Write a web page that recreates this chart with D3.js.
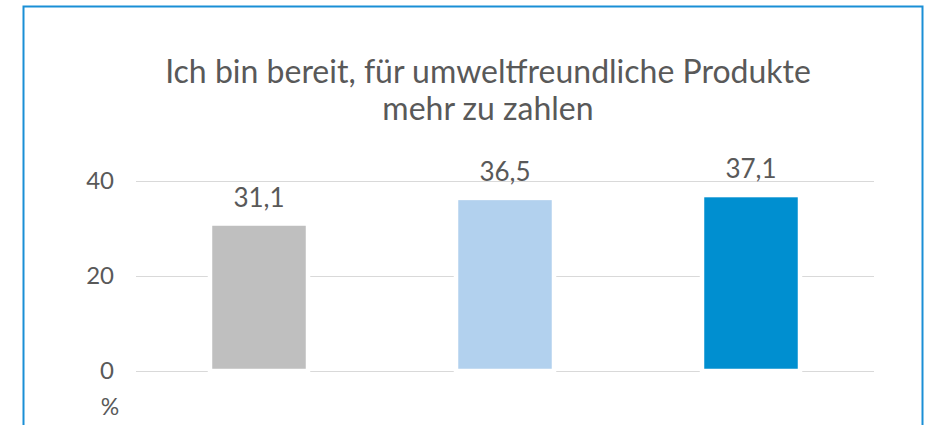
<!DOCTYPE html>
<html>
<head>
<meta charset="utf-8">
<script src="https://cdn.jsdelivr.net/npm/d3@7"></script>
<style>
  body { margin: 0; background: #fff; }
  text { font-family: Lato, "Open Sans", sans-serif; fill: #595959; }
</style>
</head>
<body>
<div id="chart"></div>
<script>
var categories = ['A', 'B', 'C'];
var values = [31.1, 36.5, 37.1];
var barColors = ['#bfbfbf', '#b2d1ee', '#008fd0'];
var yTicks = [0, 20, 40];
var titleLines = ['Ich bin bereit, für umweltfreundliche Produkte', 'mehr zu zahlen'];

var width = 932;
var height = 425;

var svg = d3.select('#chart')
    .append('svg')
        .attr('width', width)
        .attr('height', height);

// blue frame, bottom edge runs off the picture
svg.append('rect')
    .attr('x', 23.5)
    .attr('y', 6.5)
    .attr('width', 899)
    .attr('height', 440)
    .style('fill', 'none')
    .style('stroke', '#1a8fd6')
    .style('stroke-width', 2);

var x = d3.scaleBand()
    .domain(categories)
    .range([136, 874])
    .paddingInner(0.6016)
    .paddingOuter(0.3008);

var y = d3.scaleLinear()
    .domain([0, 40])
    .range([371, 181.3]);

svg.selectAll('.title')
    .data(titleLines)
    .enter()
        .append('text')
        .attr('class', 'title')
        .attr('x', 488)
        .attr('y', function(d, i) { return 83 + i * 37; })
        .attr('text-anchor', 'middle')
        .style('font-size', '32px')
        .text(function(d) { return d; });

// gridlines
svg.selectAll('.grid')
    .data(yTicks)
    .enter()
        .append('line')
        .attr('class', 'grid')
        .attr('x1', 136)
        .attr('x2', 874)
        .attr('y1', function(d) { return Math.round(y(d)) + 0.5; })
        .attr('y2', function(d) { return Math.round(y(d)) + 0.5; })
        .style('stroke', '#d9d9d9')
        .style('stroke-width', 1);

var yAxis = svg.append('g')
    .attr('transform', 'translate(114,0)')
    .call(d3.axisLeft(y).tickValues(yTicks).tickSize(0).tickPadding(0));
yAxis.select('.domain').remove();
yAxis.selectAll('text')
    .style('font-size', '24px')
    .style('font-family', 'Lato, sans-serif')
    .style('fill', '#595959');

svg.append('text')
    .attr('x', 110)
    .attr('y', 415)
    .attr('text-anchor', 'middle')
    .style('font-size', '23px')
    .text('%');

var data = categories.map(function(c, i) { return {cat: c, value: values[i], color: barColors[i]}; });

// white outline cuts the gridlines next to each bar
svg.selectAll('.bar')
    .data(data)
    .enter()
        .append('rect')
        .attr('class', 'bar')
        .attr('x', function(d) { return x(d.cat); })
        .attr('y', function(d) { return y(d.value); })
        .attr('width', x.bandwidth())
        .attr('height', function(d) { return y(0) - y(d.value); })
        .style('fill', function(d) { return d.color; })
        .style('stroke', '#fff')
        .style('stroke-width', 4.5);

svg.selectAll('.label')
    .data(data)
    .enter()
        .append('text')
        .attr('class', 'label')
        .attr('x', function(d) { return x(d.cat) + x.bandwidth() / 2; })
        .attr('y', function(d) { return y(d.value) - 17; })
        .attr('text-anchor', 'middle')
        .style('font-size', '26px')
        .text(function(d) { return String(d.value).replace('.', ','); });
</script>
</body>
</html>
